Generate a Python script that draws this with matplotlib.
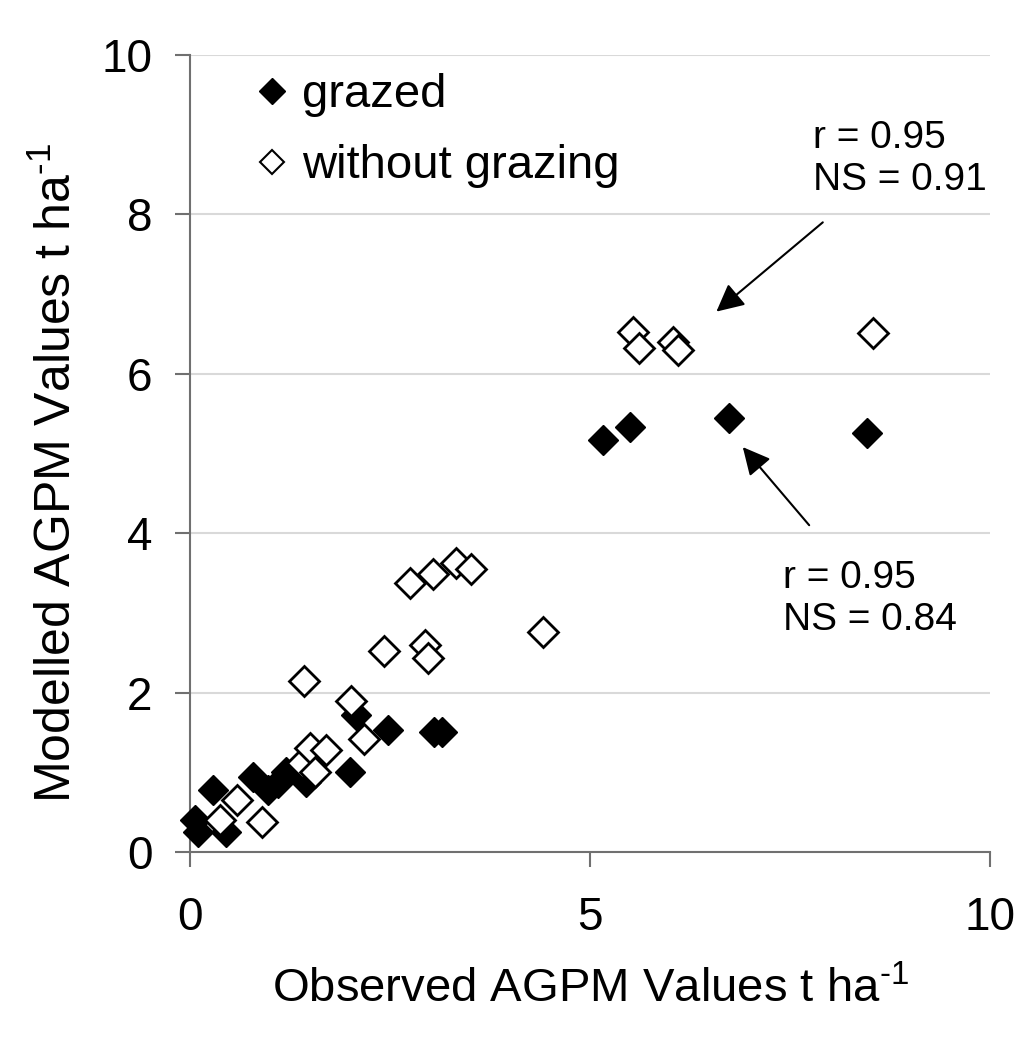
import matplotlib.pyplot as plt
from matplotlib.lines import Line2D

plt.rcParams['font.family'] = ['Liberation Sans', 'DejaVu Sans']
plt.rcParams['mathtext.fontset'] = 'custom'
plt.rcParams['mathtext.rm'] = 'Liberation Sans'
plt.rcParams['mathtext.it'] = 'Liberation Sans'

# observed / modelled AGPM, t ha-1
grazed_obs = [0.06, 0.10, 0.29, 0.45, 0.79, 0.98, 1.10, 1.20, 1.45, 2.00, 2.08, 2.48, 3.05, 3.15,
              5.16, 5.50, 6.74, 8.46]
grazed_mod = [0.40, 0.25, 0.78, 0.25, 0.94, 0.78, 0.86, 1.00, 0.88, 1.00, 1.72, 1.53, 1.50, 1.50,
              5.17, 5.33, 5.45, 5.26]

free_obs = [0.37, 0.59, 0.90, 1.40, 1.50, 1.56, 1.70, 1.42, 2.01, 2.18, 2.42, 2.75, 2.94, 2.98,
            3.04, 3.33, 3.51, 4.41, 5.54, 5.61, 6.04, 6.10, 8.54]
free_mod = [0.40, 0.65, 0.38, 1.12, 1.30, 1.00, 1.28, 2.15, 1.90, 1.42, 2.52, 3.38, 2.60, 2.43,
            3.49, 3.62, 3.55, 2.76, 6.52, 6.32, 6.40, 6.30, 6.51]

xticks = [0, 5, 10]
yticks = [0, 2, 4, 6, 8, 10]


def main():
    fig = plt.figure(figsize=(10.24, 10.45), dpi=100)
    ax = fig.add_axes([0.1855, 0.1847, 0.7813, 0.7627])

    ax.plot(grazed_obs, grazed_mod, 'D', color='black', markersize=15, linestyle='none',
            zorder=3, clip_on=False)
    ax.plot(free_obs, free_mod, 'D', markerfacecolor='white', markeredgecolor='black',
            markeredgewidth=2, markersize=15, linestyle='none', zorder=4, clip_on=False)

    ax.set_xlim(0, 10)
    ax.set_ylim(0, 10)
    ax.set_xticks(xticks)
    ax.set_yticks(yticks)
    ax.yaxis.grid(True, color='#d9d9d9', linewidth=1.5)
    ax.set_axisbelow(True)
    for s in ['top', 'right']:
        ax.spines[s].set_visible(False)
    for s in ['left', 'bottom']:
        ax.spines[s].set_color('#707070')
        ax.spines[s].set_linewidth(1.5)
    ax.tick_params(axis='both', length=11, width=1.5, color='#707070', labelsize=33)
    ax.tick_params(axis='x', pad=21)
    ax.tick_params(axis='y', pad=16)

    ax.set_xlabel(r'Observed AGPM Values t ha$^{\text{-1}}$', fontsize=34)
    ax.set_ylabel(r'Modelled AGPM Values t ha$^{\text{-1}}$', fontsize=36)
    ax.xaxis.set_label_coords(0.5, -0.173)
    ax.yaxis.set_label_coords(-0.166, 0.475)
    ax.xaxis.label.set_va('center')
    ax.yaxis.label.set_va('center')

    handles = [
        Line2D([], [], marker='D', color='black', linestyle='none', markersize=13),
        Line2D([], [], marker='D', markerfacecolor='white', markeredgecolor='black',
               markeredgewidth=1.5, linestyle='none', markersize=12),
    ]
    ax.legend(handles, ['grazed', 'without grazing'], loc='upper left',
              bbox_to_anchor=(0.061, 1.001), borderaxespad=0, frameon=False, fontsize=34,
              handlelength=0.6, handletextpad=0.34, labelspacing=0.58)

    ax.text(7.79, 9.18, 'r = 0.95\nNS = 0.91', fontsize=28, ha='left', va='top')
    ax.text(7.41, 3.66, 'r = 0.95\nNS = 0.84', fontsize=28, ha='left', va='top')
    ax.annotate('', xy=(6.58, 6.78), xytext=(7.91, 7.90),
                arrowprops=dict(arrowstyle='-|>', mutation_scale=42, lw=1.5,
                                color='black', shrinkA=0, shrinkB=0))
    ax.annotate('', xy=(6.91, 5.08), xytext=(7.74, 4.10),
                arrowprops=dict(arrowstyle='-|>', mutation_scale=42, lw=1.5,
                                color='black', shrinkA=0, shrinkB=0))

    fig.savefig('out.png')


if __name__ == '__main__':
    main()
